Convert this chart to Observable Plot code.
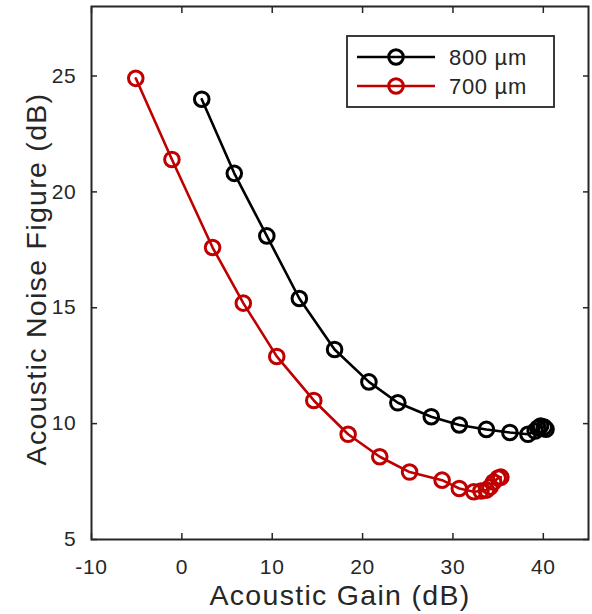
<!DOCTYPE html>
<html>
<head>
<meta charset="utf-8">
<script src="https://cdn.jsdelivr.net/npm/d3@7"></script>
<script src="https://cdn.jsdelivr.net/npm/@observablehq/plot@0.6"></script>
<style>
  html, body { margin: 0; padding: 0; background: #fff; }
  #chart { position: relative; width: 592px; height: 614px; }
</style>
</head>
<body>
<div id="chart"></div>
<script>
// ---- data ----
const seriesNames = ["800 µm", "700 µm"];
const seriesColors = ["#000000", "#c00000"];

const gain800 = [2.2, 5.8, 9.4, 13.0, 16.9, 20.7, 23.9, 27.6, 30.7, 33.7, 36.3, 38.3, 39.1, 39.4, 39.7, 40.1, 40.3];
const nf800   = [24.0, 20.8, 18.1, 15.4, 13.2, 11.8, 10.9, 10.3, 9.94, 9.75, 9.62, 9.54, 9.68, 9.81, 9.9, 9.85, 9.76];

const gain700 = [-5.1, -1.1, 3.4, 6.8, 10.5, 14.6, 18.4, 21.9, 25.2, 28.8, 30.7, 32.3, 33.1, 33.7, 34.1, 34.5, 35.0, 35.3];
const nf700   = [24.9, 21.4, 17.6, 15.2, 12.9, 11.0, 9.54, 8.57, 7.91, 7.56, 7.2, 7.06, 7.09, 7.13, 7.26, 7.48, 7.65, 7.69];

const xTicks = [-10, 0, 10, 20, 30, 40];
const yTicks = [5, 10, 15, 20, 25];
const xDomain = [-10, 45];
const yDomain = [5, 28];
const xLabel = "Acoustic Gain (dB)";
const yLabel = "Acoustic Noise Figure (dB)";

// ---- build table ----
const rows = [];
[[gain800, nf800], [gain700, nf700]].forEach(([g, n], i) => {
  g.forEach((v, j) => rows.push({series: seriesNames[i], gain: v, nf: n[j]}));
});

const axisColor = "#262626";
const font = "'Liberation Sans', Arial, Helvetica, sans-serif";
const fmt = d => String(d);

const chart = Plot.plot({
  width: 592,
  height: 614,
  marginLeft: 91,
  marginRight: 4,
  marginTop: 6,
  marginBottom: 75,
  style: {fontFamily: font, color: axisColor, background: "#fff", overflow: "visible"},
  x: {domain: xDomain},
  y: {domain: yDomain},
  color: {domain: seriesNames, range: seriesColors},
  marks: [
    Plot.line(rows, {x: "gain", y: "nf", z: "series", stroke: "series", strokeWidth: 2.6}),
    Plot.dot(rows, {x: "gain", y: "nf", stroke: "series", r: 7.3, strokeWidth: 3, fill: "none"}),
    Plot.frame({stroke: axisColor, strokeWidth: 2}),
    Plot.axisX(xTicks, {anchor: "bottom", tickSize: -6, tickPadding: 26, fontSize: 21, tickFormat: fmt, label: null, stroke: axisColor, strokeWidth: 1.5}),
    Plot.axisX(xTicks, {anchor: "top", tickSize: -6, tickFormat: () => "", label: null, stroke: axisColor, strokeWidth: 1.5}),
    Plot.axisY(yTicks, {anchor: "left", tickSize: -6, tickPadding: 21, fontSize: 21, tickFormat: fmt, label: null, stroke: axisColor, strokeWidth: 1.5}),
    Plot.axisY(yTicks, {anchor: "right", tickSize: -6, tickFormat: () => "", label: null, stroke: axisColor, strokeWidth: 1.5}),
    Plot.text([xLabel], {frameAnchor: "bottom", textAnchor: "middle", lineAnchor: "bottom", dy: 65, text: d => d, fontSize: 28.5, fill: axisColor}),
    Plot.text([yLabel], {frameAnchor: "left", textAnchor: "middle", lineAnchor: "bottom", rotate: -90, dx: -46, dy: 6, text: d => d, fontSize: 28.5, fill: axisColor})
  ]
});

// wider glyph spacing, like the reference's typeface
const svg = d3.select(chart);
svg.selectAll('g[aria-label="text"] text').style("letter-spacing", "1.3px");
svg.selectAll('g[aria-label="x-axis tick label"] text, g[aria-label="y-axis tick label"] text').style("letter-spacing", "0.7px");

// ---- legend inside the axes ----
const lg = svg.append("g").attr("font-family", font).attr("text-anchor", "start");
lg.append("rect").attr("x", 347).attr("y", 36).attr("width", 207).attr("height", 71)
  .attr("fill", "#fff").attr("stroke", axisColor).attr("stroke-width", 1.8);
const rowY = [57, 86];
seriesNames.forEach((name, i) => {
  const c = seriesColors[i];
  lg.append("line").attr("x1", 357).attr("x2", 435).attr("y1", rowY[i]).attr("y2", rowY[i])
    .attr("stroke", c).attr("stroke-width", 2.6);
  lg.append("circle").attr("cx", 396).attr("cy", rowY[i]).attr("r", 7.3)
    .attr("fill", "none").attr("stroke", c).attr("stroke-width", 3);
  lg.append("text").attr("x", 449).attr("y", rowY[i]).attr("dy", "0.35em")
    .attr("font-size", 22).style("letter-spacing", "0.7px").attr("fill", axisColor).text(name);
});

document.getElementById("chart").appendChild(chart);
</script>
</body>
</html>
